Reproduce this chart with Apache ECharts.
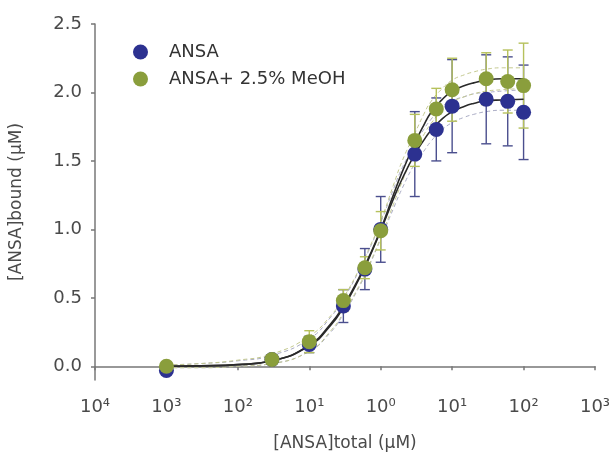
<!DOCTYPE html>
<html>
<head>
<meta charset="utf-8">
<script src="https://cdn.jsdelivr.net/npm/echarts@6/dist/echarts.min.js"></script>
<style>
  html, body { margin: 0; padding: 0; background: #fff; }
  #chart { width: 614px; height: 457px; }
</style>
</head>
<body>
<div id="chart"></div>
<script>
// Total ANSA concentration (µM) for each measured point
const concentrations = [0.001, 0.03, 0.1, 0.3, 0.6, 1, 3, 6, 10, 30, 60, 100];

// Bound ANSA (µM), mean and error, buffer only
const ansaBound = [-0.03, 0.05, 0.16, 0.44, 0.71, 1.00, 1.55, 1.73, 1.90, 1.95, 1.935, 1.855];
const ansaErr   = [0.01, 0.02, 0.06, 0.12, 0.15, 0.24, 0.31, 0.23, 0.34, 0.325, 0.325, 0.345];

// Bound ANSA (µM), mean and error, with 2.5% MeOH
const meohBound = [0.00, 0.05, 0.18, 0.48, 0.72, 0.99, 1.65, 1.88, 2.02, 2.10, 2.08, 2.05];
const meohErr   = [0.01, 0.02, 0.08, 0.08, 0.08, 0.14, 0.19, 0.15, 0.23, 0.19, 0.23, 0.31];

// Fitted binding curves and their confidence bands, sampled along x
const fitX      = [0.001, 0.003, 0.01, 0.03, 0.1, 0.2, 0.3, 0.5, 0.7, 1, 1.5, 2, 3, 4, 5, 7, 10, 15, 20, 30, 50, 100];
const ansaFit   = [0.00, 0.003, 0.012, 0.04, 0.15, 0.30, 0.43, 0.64, 0.80, 0.99, 1.22, 1.37, 1.55, 1.65, 1.72, 1.80, 1.86, 1.90, 1.92, 1.94, 1.945, 1.95];
const meohFit   = [0.00, 0.003, 0.012, 0.04, 0.155, 0.31, 0.44, 0.65, 0.81, 1.00, 1.25, 1.42, 1.63, 1.76, 1.85, 1.94, 2.01, 2.05, 2.07, 2.09, 2.10, 2.10];
const ansaUpper = [0.01, 0.02, 0.04, 0.08, 0.20, 0.36, 0.49, 0.70, 0.86, 1.05, 1.29, 1.45, 1.62, 1.73, 1.80, 1.89, 1.94, 1.97, 1.99, 2.00, 2.01, 2.02];
const ansaLower = [-0.01, -0.01, 0.00, 0.02, 0.11, 0.25, 0.38, 0.58, 0.74, 0.93, 1.15, 1.30, 1.48, 1.57, 1.64, 1.72, 1.78, 1.82, 1.84, 1.86, 1.87, 1.87];
const meohUpper = [0.01, 0.02, 0.045, 0.09, 0.22, 0.37, 0.50, 0.71, 0.87, 1.06, 1.32, 1.50, 1.70, 1.84, 1.93, 2.02, 2.09, 2.13, 2.15, 2.17, 2.18, 2.18];
const meohLower = [-0.01, -0.01, 0.00, 0.02, 0.11, 0.26, 0.39, 0.59, 0.75, 0.94, 1.18, 1.35, 1.57, 1.69, 1.77, 1.86, 1.93, 1.97, 1.99, 2.01, 2.02, 2.03];

// Axis tick values
const yTicks = [0.0, 0.5, 1.0, 1.5, 2.0, 2.5];

const BLUE = '#2c3190';
const GREEN = '#8a9e3c';
const FONT = 'DejaVu Sans';
const TEXT = '#4a4a4a';

const pairs = (xs, ys) => xs.map((x, i) => [x, ys[i]]);
const errRows = (ys, es) => concentrations.map((x, i) => [x, ys[i] - es[i], ys[i] + es[i]]);

function errorBars(color) {
  return function (params, api) {
    const x = api.value(0);
    const lo = api.coord([x, api.value(1)]);
    const hi = api.coord([x, api.value(2)]);
    const hw = 5;
    const style = { stroke: color, lineWidth: 1.4 };
    return {
      type: 'group',
      children: [
        { type: 'line', shape: { x1: lo[0], y1: lo[1], x2: hi[0], y2: hi[1] }, style },
        { type: 'line', shape: { x1: lo[0] - hw, y1: lo[1], x2: lo[0] + hw, y2: lo[1] }, style },
        { type: 'line', shape: { x1: hi[0] - hw, y1: hi[1], x2: hi[0] + hw, y2: hi[1] }, style }
      ]
    };
  };
}

function band(name, ys, color) {
  return {
    name, type: 'line', data: pairs(fitX, ys), smooth: true, symbol: 'none', z: 1,
    lineStyle: { color, width: 1, type: [4, 3] }, silent: true
  };
}

const supDigits = { '0': '⁰', '1': '¹', '2': '²', '3': '³', '4': '⁴' };

const chart = echarts.init(document.getElementById('chart'));
chart.setOption({
  animation: false,
  backgroundColor: '#fff',
  grid: { left: 95, right: 19, top: 24, bottom: 74, containLabel: false },
  legend: {
    left: 128, top: 38, orient: 'vertical', itemGap: 9,
    itemWidth: 15, itemHeight: 15,
    data: [
      { name: 'ANSA', icon: 'circle' },
      { name: 'ANSA+ 2.5% MeOH', icon: 'circle' }
    ],
    textStyle: { fontFamily: FONT, fontSize: 18, color: '#333', padding: [0, 0, 0, 16] }
  },
  xAxis: {
    type: 'log', logBase: 10, min: 1e-4, max: 1e3,
    name: '[ANSA]total (µM)', nameLocation: 'middle', nameGap: 55,
    nameTextStyle: { fontFamily: FONT, fontSize: 17, color: TEXT },
    axisLine: { lineStyle: { color: '#777', width: 1.5 } },
    axisTick: { show: true, length: 4, lineStyle: { color: '#777', width: 1.5 } },
    axisLabel: {
      margin: 18, fontFamily: FONT, fontSize: 18, color: TEXT,
      formatter: (v) => {
        const e = Math.round(Math.log10(v));
        return '10' + supDigits[String(Math.abs(e))];
      }
    },
    splitLine: { show: false },
    minorTick: { show: false }
  },
  yAxis: {
    type: 'value', min: -0.1, max: 2.5,
    name: '[ANSA]bound (µM)', nameLocation: 'middle', nameGap: 70,
    nameTextStyle: { fontFamily: FONT, fontSize: 17, color: TEXT },
    axisLine: { show: true, lineStyle: { color: '#777', width: 1.5 } },
    axisTick: { show: true, length: 4, customValues: yTicks, lineStyle: { color: '#777', width: 1.5 } },
    axisLabel: {
      margin: 13, fontFamily: FONT, fontSize: 18, color: TEXT,
      customValues: yTicks,
      formatter: (v) => v.toFixed(1)
    },
    splitLine: { show: false }
  },
  series: [
    band('ANSA band upper', ansaUpper, '#a9abc4'),
    band('ANSA band lower', ansaLower, '#a9abc4'),
    band('MeOH band upper', meohUpper, '#c4c98f'),
    band('MeOH band lower', meohLower, '#c4c98f'),
    {
      name: 'ANSA error', type: 'custom', z: 2, silent: true,
      renderItem: errorBars('#4b4f8e'),
      encode: { x: 0, y: [1, 2] },
      data: errRows(ansaBound, ansaErr)
    },
    {
      name: 'MeOH error', type: 'custom', z: 2, silent: true,
      renderItem: errorBars('#b6c15c'),
      encode: { x: 0, y: [1, 2] },
      data: errRows(meohBound, meohErr)
    },
    {
      name: 'ANSA fit', type: 'line', data: pairs(fitX, ansaFit), smooth: true,
      symbol: 'none', z: 3, lineStyle: { color: '#2a2a2a', width: 1.6 }, silent: true
    },
    {
      name: 'MeOH fit', type: 'line', data: pairs(fitX, meohFit), smooth: true,
      symbol: 'none', z: 3, lineStyle: { color: '#2a2a2a', width: 1.6 }, silent: true
    },
    {
      name: 'ANSA', type: 'scatter', z: 4, symbol: 'circle', symbolSize: 15,
      itemStyle: { color: BLUE, opacity: 1 },
      data: pairs(concentrations, ansaBound)
    },
    {
      name: 'ANSA+ 2.5% MeOH', type: 'scatter', z: 5, symbol: 'circle', symbolSize: 15,
      itemStyle: { color: GREEN, opacity: 1 },
      data: pairs(concentrations, meohBound)
    }
  ]
});
</script>
</body>
</html>
